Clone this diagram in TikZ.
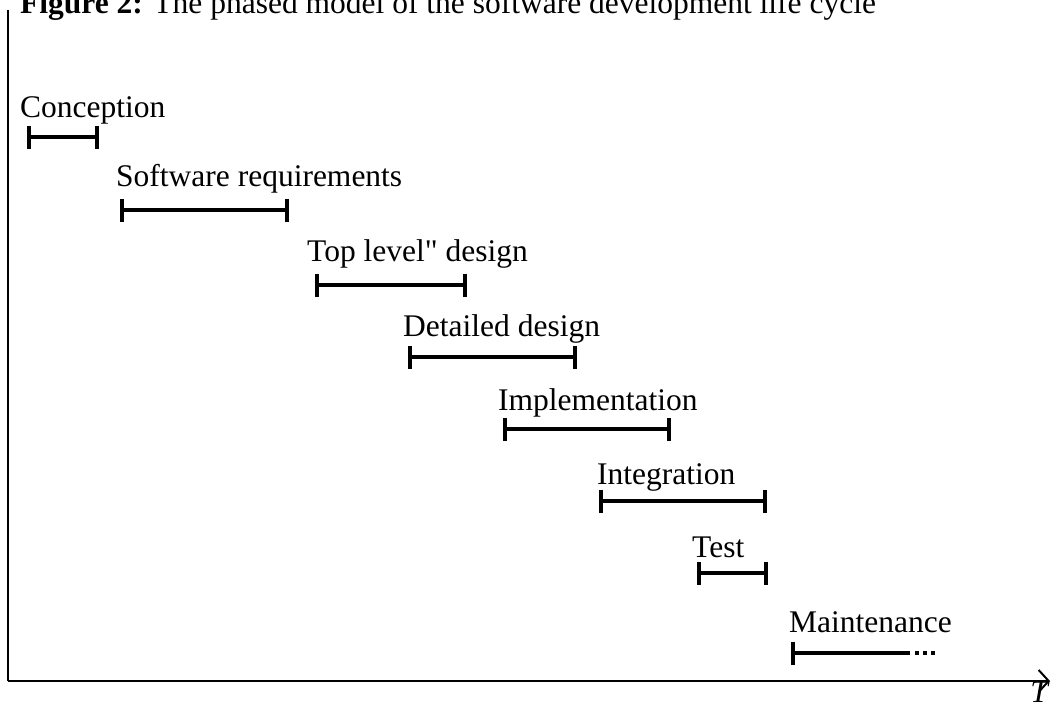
\documentclass[tikz,border=0pt]{standalone}
\usepackage{fontspec}
\setmainfont{Liberation Serif}
\usetikzlibrary{arrows.meta}

\tikzset{
  phase/.style={line width=4pt,{Bar[width=23pt,line width=4pt]}-{Bar[width=23pt,line width=4pt]}},
  label/.style={anchor=base west,inner sep=0pt,font=\fontsize{31.5}{36}\selectfont},
}

\begin{document}
\begin{tikzpicture}[x=1pt,y=1pt,yscale=-1]
\useasboundingbox (0,0) rectangle (1052,704);

% Title
\node (title) [label] at (20,13) {\textbf{Figure 2:} The phased model of the software development life cycle};

% Axes
\coordinate (origin) at (8,681);
\coordinate (ytop) at (8,10);
\coordinate (tend) at (1050,681);
\draw [line width=2.5pt] (ytop) -- (origin);
\draw [line width=2.5pt,-{Straight Barb[length=10pt,width=22pt,line width=2pt]}] (origin) -- (tend);
\node (t) [anchor=base,inner sep=0pt,font=\fontsize{31.5}{36}\selectfont\itshape] at (1039,702) {T};

% Text Node
\node (conc) [label] at (20,117) {Conception};
\node (req) [label] at (116,186) {Software requirements};
\node (toplev) [label] at (307,261) {Top level\textquotedbl{} design};
\node (det) [label] at (403,336) {Detailed design};
\node (impl) [label] at (498,410) {Implementation};
\node (integ) [label] at (597,484) {Integration};
\node (test) [label] at (692,557) {Test};
\node (maint) [label] at (789,632) {Maintenance};

% Phases
\draw [phase] (27,137) -- (99,137);
\draw [phase] (120,210) -- (289,210);
\draw [phase] (315,285) -- (467,285);
\draw [phase] (408,357) -- (577,357);
\draw [phase] (503,429) -- (671,429);
\draw [phase] (599,501) -- (767,501);
\draw [phase] (697,573) -- (768,573);
\draw [line width=4pt,{Bar[width=23pt,line width=4pt]}-] (791,653) -- (910,653);
\draw [line width=4pt,dash pattern=on 4pt off 4pt] (915,653) -- (937,653);
\end{tikzpicture}
\end{document}
